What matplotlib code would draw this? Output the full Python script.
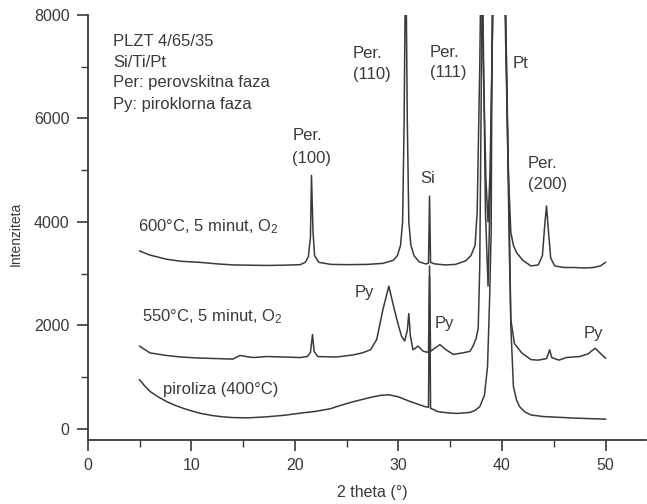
import matplotlib.pyplot as plt
from matplotlib.ticker import MultipleLocator

plt.rcParams['font.family'] = ['Liberation Sans', 'DejaVu Sans']
plt.rcParams['mathtext.fontset'] = 'custom'
plt.rcParams['mathtext.rm'] = 'Liberation Sans'
plt.rcParams['mathtext.it'] = 'Liberation Sans'

# XRD patterns (2 theta in degrees, intensity)
x_600 = [5.0, 6.0, 7.6, 9.0, 10.8, 12.5, 14.0, 15.5, 17.3, 19.0, 20.5, 21.0, 21.3, 21.5,
         21.6, 21.75, 21.9, 22.3, 23.5, 25.0, 27.0, 28.5, 29.5, 29.9, 30.2, 30.4, 30.55,
         30.7, 30.85, 31.0, 31.2, 31.5, 32.0, 32.6, 32.9, 33.0, 33.1, 33.5, 34.5, 35.5,
         36.5, 37.0, 37.4, 37.6, 37.85, 38.0, 38.2, 38.45, 38.65, 38.85, 39.1, 39.7, 40.3,
         40.6, 40.85, 41.1, 41.4, 42.0, 42.8, 43.5, 43.9, 44.15, 44.3, 44.45, 44.7, 45.1,
         46.0, 47.0, 48.0, 48.8, 49.5, 50.0]
y_600 = [3440, 3360, 3280, 3240, 3220, 3190, 3170, 3165, 3160, 3165, 3175, 3220, 3330, 3700,
         4900, 3800, 3350, 3220, 3180, 3175, 3180, 3200, 3260, 3350, 3550, 4000, 6000,
         9500, 6000, 4000, 3550, 3350, 3230, 3190, 3200, 4500, 3220, 3190, 3170, 3180,
         3250, 3350, 3550, 4200, 7000, 9500, 7000, 4800, 4000, 5000, 8000, 30000, 8000,
         5000, 3800, 3550, 3410, 3260, 3150, 3170, 3350, 4000, 4310, 3900, 3300, 3150,
         3120, 3120, 3110, 3120, 3150, 3220]

x_550 = [5.0, 6.0, 7.6, 9.0, 10.8, 12.5, 14.0, 14.7, 15.3, 16.0, 17.3, 19.0, 20.5, 21.2,
         21.5, 21.7, 21.85, 22.2, 24.0, 25.6, 26.5, 27.3, 27.9, 28.5, 29.07, 29.6, 30.0,
         30.3, 30.6, 30.85, 31.0, 31.15, 31.4, 31.9, 32.4, 32.9, 33.0, 33.1, 33.5, 34.0,
         34.6, 35.3, 36.2, 36.9, 37.2, 37.5, 37.7, 37.85, 38.1, 38.4, 38.65, 38.85, 39.1,
         39.7, 40.35, 40.7, 40.85, 41.2, 41.9, 42.8, 43.5, 44.3, 44.6, 44.8, 45.5, 46.2,
         47.5, 48.3, 48.8, 49.0, 49.3, 49.7, 50.0]
y_550 = [1600, 1470, 1420, 1390, 1370, 1360, 1350, 1420, 1400, 1380, 1400, 1390, 1380, 1400,
         1480, 1825, 1500, 1400, 1390, 1430, 1470, 1530, 1730, 2310, 2760, 2310, 2000,
         1790, 1700, 1900, 2230, 1800, 1530, 1600, 1500, 1480, 2950, 1500, 1560, 1630,
         1530, 1440, 1470, 1500, 1600, 1750, 1950, 3150, 9000, 4200, 2760, 4500, 8000,
         25000, 8000, 3500, 2115, 1650, 1470, 1340, 1330, 1360, 1530, 1380, 1330, 1380,
         1400, 1450, 1530, 1560, 1500, 1420, 1370]

x_pir = [5.0, 5.5, 6.0, 6.8, 7.6, 8.4, 9.2, 10.0, 10.8, 12.0, 13.0, 14.0, 15.5, 17.3, 19.0,
         20.5, 22.0, 23.4, 24.0, 25.5, 27.3, 28.3, 29.1, 30.0, 31.0, 32.0, 32.6, 32.9, 33.0,
         33.1, 33.8, 34.8, 35.7, 36.9, 37.4, 37.85, 38.3, 38.6, 38.8, 38.95, 39.05, 39.7,
         40.35, 40.75, 40.85, 41.1, 41.4, 41.7, 42.2, 42.8, 44.0, 45.0, 47.0, 50.0]
y_pir = [950, 830, 725, 620, 530, 460, 400, 350, 305, 260, 235, 220, 215, 235, 265,
         305, 340, 390, 430, 520, 610, 650, 660, 620, 540, 470, 430, 420, 3150,
         400, 335, 310, 300, 320, 360, 430, 650, 1200, 2500, 3800, 8000, 40000,
         8000, 3500, 2000, 820, 560, 430, 330, 270, 240, 230, 210, 190]

fig = plt.figure(figsize=(6.47, 5.04), dpi=100)
ax = fig.add_axes([0.1357, 0.127, 0.8627, 0.8433])

ink = '#3a3a3a'
for xs, ys in [(x_600, y_600), (x_550, y_550), (x_pir, y_pir)]:
    ax.plot(xs, ys, color=ink, lw=1.1)

ax.set_xlim(0, 53.9)
ax.set_ylim(-213, 8000)
ax.xaxis.set_major_locator(MultipleLocator(10))
ax.xaxis.set_minor_locator(MultipleLocator(5))
ax.yaxis.set_major_locator(MultipleLocator(2000))
ax.yaxis.set_minor_locator(MultipleLocator(1000))
for s in ['top', 'right']:
    ax.spines[s].set_visible(False)
for s in ['left', 'bottom']:
    ax.spines[s].set_linewidth(1.3)
    ax.spines[s].set_color(ink)
ax.tick_params(which='major', length=8, width=1.2, labelsize=11.5, pad=5, colors=ink)
ax.tick_params(which='minor', length=5, width=1.0, colors=ink)

ax.set_xlabel('2 theta (°)', fontsize=11.5, color=ink)
ax.xaxis.set_label_coords(0.51, -0.106)
ax.set_ylabel('Intenziteta', fontsize=10, color=ink)
ax.yaxis.set_label_coords(-0.116, 0.485)

# annotations
tk = dict(fontsize=12, color=ink, va='baseline', ha='left')
ax.text(2.43, 7407, 'PLZT 4/65/35', **tk)
ax.text(2.43, 7001, 'Si/Ti/Pt', **tk)
ax.text(2.43, 6603, 'Per: perovskitna faza', **tk)
ax.text(2.43, 6178, 'Py: piroklorna faza', **tk)

ax.text(19.75, 5585, 'Per.', **tk)
ax.text(19.7, 5134, '(100)', **tk)
ax.text(25.6, 7163, 'Per.', **tk)
ax.text(25.6, 6763, '(110)', **tk)
ax.text(33.0, 7194, 'Per.', **tk)
ax.text(33.0, 6796, '(111)', **tk)
ax.text(41.0, 6982, 'Pt', **tk)
ax.text(32.1, 4747, 'Si', **tk)
ax.text(42.5, 5037, 'Per.', **tk)
ax.text(42.5, 4638, '(200)', **tk)

ax.text(4.88, 3813, '600°C, 5 minut, O$_2$', **tk)
ax.text(5.2, 2074, '550°C, 5 minut, O$_2$', **tk)
ax.text(7.3, 676, 'piroliza (400°C)', **tk)

ax.text(25.8, 2545, 'Py', **tk)
ax.text(33.45, 1945, 'Py', **tk)
ax.text(47.9, 1752, 'Py', **tk)

fig.savefig('out.png', dpi=100)
